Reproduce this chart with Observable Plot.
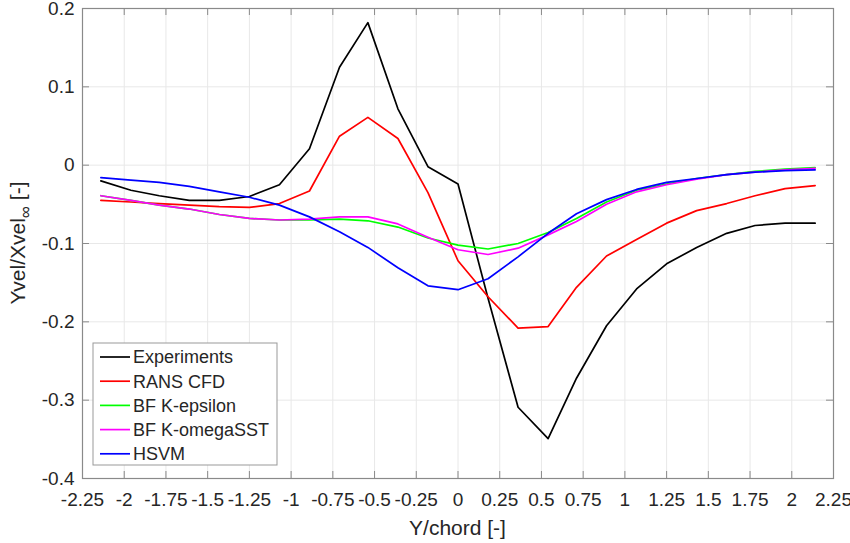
<!DOCTYPE html>
<html><head><meta charset="utf-8">
<script src="https://cdn.jsdelivr.net/npm/d3@7"></script>
<script src="https://cdn.jsdelivr.net/npm/@observablehq/plot@0.6"></script>
<style>
body{margin:0;background:#fff;}
#chart{position:relative;width:850px;height:543px;overflow:hidden;}
</style></head><body><div id="chart"></div>
<script>
// Y/chord positions of the samples
const yPos = [-2.14,-1.96,-1.79,-1.61,-1.43,-1.25,-1.07,-0.89,-0.71,-0.54,-0.36,-0.18,0,0.18,0.36,0.54,0.71,0.89,1.07,1.25,1.43,1.61,1.78,1.96,2.14];
const experiments = [-0.020,-0.032,-0.039,-0.045,-0.045,-0.040,-0.025,0.021,0.125,0.182,0.072,-0.002,-0.024,-0.170,-0.309,-0.349,-0.272,-0.205,-0.158,-0.126,-0.105,-0.087,-0.077,-0.074,-0.074];
const ransCfd = [-0.045,-0.047,-0.049,-0.051,-0.053,-0.054,-0.049,-0.033,0.037,0.061,0.034,-0.035,-0.122,-0.168,-0.208,-0.206,-0.156,-0.116,-0.095,-0.074,-0.058,-0.049,-0.039,-0.030,-0.026];
const bfKEpsilon = [-0.039,-0.045,-0.051,-0.056,-0.063,-0.068,-0.070,-0.070,-0.069,-0.071,-0.079,-0.093,-0.102,-0.107,-0.100,-0.086,-0.068,-0.047,-0.032,-0.024,-0.017,-0.012,-0.008,-0.005,-0.003];
const bfKOmegaSST = [-0.039,-0.045,-0.051,-0.056,-0.063,-0.068,-0.070,-0.069,-0.066,-0.066,-0.075,-0.092,-0.108,-0.114,-0.106,-0.089,-0.072,-0.050,-0.034,-0.025,-0.018,-0.012,-0.009,-0.006,-0.004];
const hsvm = [-0.016,-0.019,-0.022,-0.027,-0.034,-0.041,-0.051,-0.066,-0.085,-0.105,-0.131,-0.154,-0.159,-0.145,-0.117,-0.087,-0.062,-0.044,-0.031,-0.022,-0.017,-0.012,-0.009,-0.007,-0.006];

const seriesNames = ["Experiments","RANS CFD","BF K-epsilon","BF K-omegaSST","HSVM"];
const seriesColors = ["#000000","#ff0000","#00ff00","#ff00ff","#0000ff"];
const xTicks = [-2.25,-2,-1.75,-1.5,-1.25,-1,-0.75,-0.5,-0.25,0,0.25,0.5,0.75,1,1.25,1.5,1.75,2,2.25];
const yTicks = [-0.4,-0.3,-0.2,-0.1,0,0.1,0.2];
const xLabel = "Y/chord [-]";

const allSeries = [experiments, ransCfd, bfKEpsilon, bfKOmegaSST, hsvm];
const data = [];
allSeries.forEach((vals, i) => vals.forEach((v, j) => data.push({series: seriesNames[i], x: yPos[j], y: v})));

const W = 850, H = 543, mL = 82, mR = 17, mT = 8, mB = 65;
const innerW = W - mL - mR, innerH = H - mT - mB;
const axisGray = "#8a8a8a", textGray = "#262626", gridGray = "#e8e8e8";
const font = "'Liberation Sans', Arial, Helvetica, sans-serif";

const plot = Plot.plot({
  width: W, height: H,
  marginLeft: mL, marginRight: mR, marginTop: mT, marginBottom: mB,
  style: {fontFamily: font, fontSize: "19px", color: textGray, background: "#fff", overflow: "visible"},
  x: {domain: [-2.25, 2.25], label: null},
  y: {domain: [-0.4, 0.2], label: null},
  color: {domain: seriesNames, range: seriesColors},
  marks: [
    Plot.gridX(xTicks, {stroke: gridGray, strokeOpacity: 1}),
    Plot.gridY(yTicks, {stroke: gridGray, strokeOpacity: 1}),
    Plot.line(data, {x: "x", y: "y", z: "series", stroke: "series", strokeWidth: 1.7}),
    Plot.frame({stroke: axisGray, strokeWidth: 1.2}),
    Plot.tickX(xTicks, {x: d => d, stroke: axisGray, insetTop: innerH - 7}),
    Plot.tickX(xTicks, {x: d => d, stroke: axisGray, insetBottom: innerH - 7}),
    Plot.tickY(yTicks, {y: d => d, stroke: axisGray, insetRight: innerW - 7}),
    Plot.tickY(yTicks, {y: d => d, stroke: axisGray, insetLeft: innerW - 7}),
    Plot.axisX(xTicks, {tickSize: 0, tickPadding: 14, tickFormat: d => String(d), label: null, fill: textGray}),
    Plot.axisY(yTicks, {tickSize: 0, tickPadding: 8, tickFormat: d => String(d), label: null, fill: textGray})
  ]
});
document.getElementById("chart").appendChild(plot);

const svg = d3.select(plot);
// x label
svg.append("text").attr("x", mL + innerW / 2).attr("y", 535)
  .attr("text-anchor", "middle").attr("font-family", font).attr("font-size", 21)
  .attr("fill", textGray).text(xLabel);
// y label with subscript infinity
const yl = svg.append("text").attr("transform", `translate(25,${mT + innerH / 2}) rotate(-90)`)
  .attr("text-anchor", "middle").attr("font-family", font).attr("font-size", 21).attr("fill", textGray);
yl.append("tspan").text("Yvel/Xvel");
yl.append("tspan").attr("dy", 6).attr("font-size", 17).text("\u221E");
yl.append("tspan").attr("dy", -6).text(" [-]");

// legend
const lg = svg.append("g").attr("text-anchor", "start");
const lx = 93, ly = 343, lw = 184, lh = 122, rowH = 24.2;
lg.append("rect").attr("x", lx).attr("y", ly).attr("width", lw).attr("height", lh)
  .attr("fill", "#fff").attr("stroke", "#999").attr("stroke-width", 1);
seriesNames.forEach((name, i) => {
  const cy = ly + 14 + i * rowH;
  lg.append("line").attr("x1", lx + 7).attr("x2", lx + 37).attr("y1", cy).attr("y2", cy)
    .attr("stroke", seriesColors[i]).attr("stroke-width", 1.7);
  lg.append("text").attr("x", lx + 40).attr("y", cy).attr("dy", "0.35em").attr("text-anchor", "start")
    .attr("font-family", font).attr("font-size", 18).attr("fill", textGray).text(name);
});
</script>
</body></html>
